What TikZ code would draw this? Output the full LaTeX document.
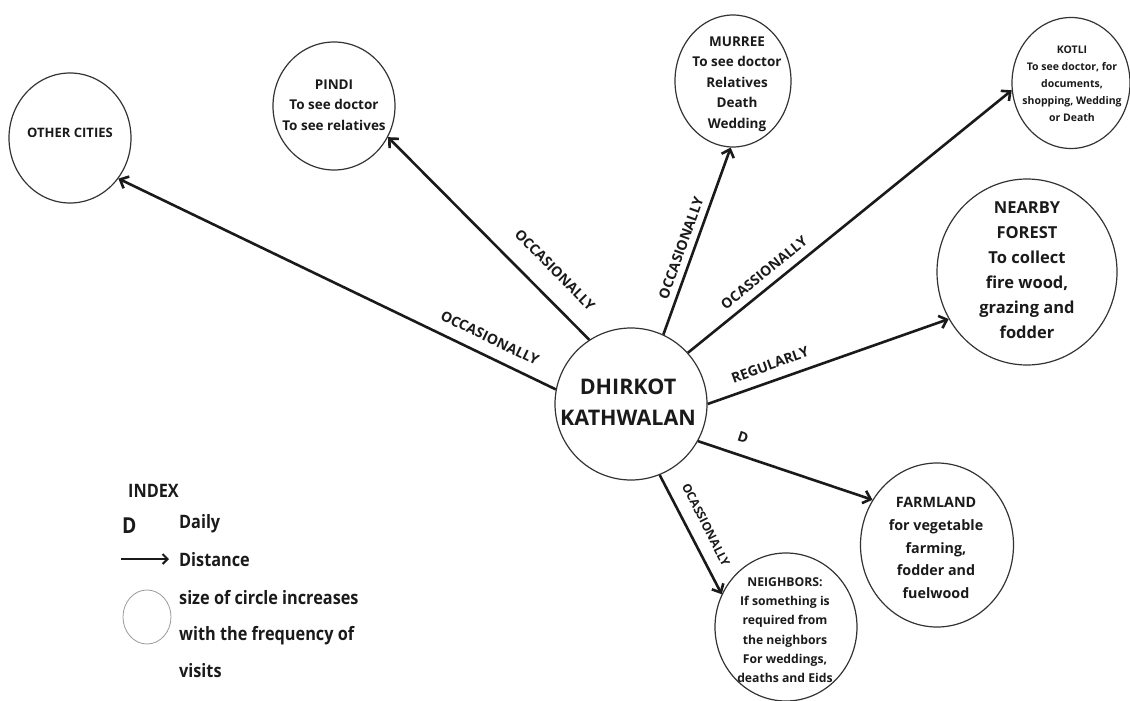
\documentclass[tikz,border=0pt]{standalone}
\usepackage{fontspec}
\setmainfont{Open Sans}
\usetikzlibrary{arrows.meta,shapes.geometric}
\definecolor{ink}{HTML}{1A1A1A}
\definecolor{rim}{HTML}{333333}
\definecolor{soft}{HTML}{9A9A9A}
\begin{document}
\begin{tikzpicture}[x=1pt,y=-1pt,
  place/.style={ellipse, draw=rim, line width=1.2pt, inner sep=0pt},
  txt/.style={align=center, text=ink, inner sep=0pt},
  link/.style={draw=ink, line width=2.6pt, -{Straight Barb[length=7pt,width=13pt]}},
  lbl/.style={text=ink, font=\bfseries\fontsize{14}{16}\selectfont, inner sep=0pt},
  idx/.style={text=ink, font=\bfseries\fontsize{18.5}{20}\selectfont, inner sep=0pt, anchor=base west, xscale=0.88, transform shape},
]
\useasboundingbox (0,0) rectangle (1130,701);

% circles
\node[place, minimum width=152pt, minimum height=152pt] (c) at (631,404) {};
\node[place, minimum width=122pt, minimum height=130pt] (oc) at (70,138) {};
\node[place, minimum width=122pt, minimum height=128pt] (pi) at (334,106) {};
\node[place, minimum width=116pt, minimum height=132pt] (mu) at (733,81) {};
\node[place, minimum width=118pt, minimum height=131pt] (ko) at (1071,83) {};
\node[place, minimum width=180pt, minimum height=186pt] (fo) at (1027,272) {};
\node[place, minimum width=153pt, minimum height=164pt] (fa) at (937,545) {};
\node[place, minimum width=142pt, minimum height=148pt] (ne) at (786,627) {};

% texts inside circles
\node[txt, font=\bfseries\fontsize{21.5}{31}\selectfont] (ct) at (628,402) {DHIRKOT\\KATHWALAN};
\node[txt, font=\bfseries\fontsize{13}{19}\selectfont] (oct) at (70,133) {OTHER CITIES};
\node[txt, font=\bfseries\fontsize{13.5}{20.5}\selectfont] (pit) at (334,105) {PINDI\\To see doctor\\To see relatives};
\node[txt, font=\bfseries\fontsize{13.5}{20.5}\selectfont] (mut) at (737,84) {MURREE\\To see doctor\\Relatives\\Death\\Wedding};
\node[txt, font=\bfseries\fontsize{10.5}{17}\selectfont] (kot) at (1072,84) {KOTLI\\To see doctor, for\\documents,\\shopping, Wedding\\or Death};
\node[txt, font=\bfseries\fontsize{16.5}{25}\selectfont] (fot) at (1027,270) {NEARBY\\FOREST\\To collect\\fire wood,\\grazing and\\fodder};
\node[txt, font=\bfseries\fontsize{14.3}{22.7}\selectfont] (fat) at (936,548) {FARMLAND\\for vegetable\\farming,\\fodder and\\fuelwood};
\node[txt, font=\bfseries\fontsize{12.2}{19.3}\selectfont] (net) at (785,630) {NEIGHBORS:\\If something is\\required from\\the neighbors\\For weddings,\\deaths and Eids};

% connectors
\draw[link] (c.169) -- (oc.-40);
\draw[link] (c.123) -- (pi.-30);
\draw[link] (c.65) -- (mu.-92);
\draw[link] (c.42) -- (ko.187);
\draw[link] (c.0) -- (fo.211);
\draw[link] (c.-29.5) -- (fa.145);
\draw[link] (c.-68) -- (ne.153);

% connector labels
\node[lbl, rotate=-25.6] (l1) at (490,338) {OCCASIONALLY};
\node[lbl, rotate=-45.4] (l2) at (555,270) {OCCASIONALLY};
\node[lbl, rotate=70.2] (l3) at (681,248) {OCCASIONALLY};
\node[lbl, rotate=39.1] (l4) at (764,273) {OCASSIONALLY};
\node[lbl, rotate=19.8] (l5) at (770,365) {REGULARLY};
\node[lbl, rotate=-18.2] (l6) at (743,437) {D};
\node[lbl, rotate=-63.2, font=\bfseries\fontsize{12}{14}\selectfont] (l7) at (706,525) {OCASSIONALLY};

% index
\node[idx] (ix) at (128,497) {INDEX};
\node[idx, font=\bfseries\fontsize{22}{22}\selectfont] (ixd) at (122,533) {D};
\node[idx] (ixdaily) at (179,528) {Daily};
\coordinate (ia) at (121,559);
\coordinate (ib) at (169,559);
\draw[draw=ink, line width=2pt, -{Straight Barb[length=5pt,width=10pt]}] (ia) -- (ib);
\node[idx] (ixdist) at (179,566) {Distance};
\node[ellipse, draw=soft, line width=0.8pt, minimum width=48pt, minimum height=54pt, inner sep=0pt] (ixc) at (147,617) {};
\node[idx] (ix1) at (179,604) {size of circle increases};
\node[idx] (ix2) at (179,640) {with the frequency of};
\node[idx] (ix3) at (179,677) {visits};
\end{tikzpicture}
\end{document}
